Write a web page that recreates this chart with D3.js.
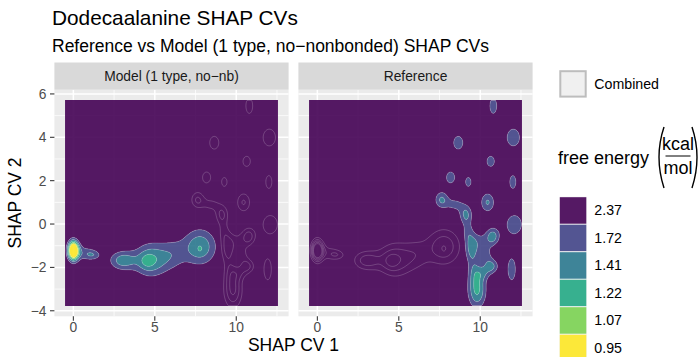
<!DOCTYPE html>
<html>
<head>
<meta charset="utf-8">
<script src="https://cdn.jsdelivr.net/npm/d3@7"></script>
<style>
  body { margin: 0; background: #ffffff; }
  text { font-family: "Liberation Sans", Arial, Helvetica, sans-serif; }
</style>
</head>
<body>
<svg id="chart" width="700" height="357"></svg>
<script>
// ---- data ---------------------------------------------------------------
const facets = ["Model (1 type, no\u2212nb)", "Reference"];
const energyLevels = [2.37, 1.72, 1.41, 1.22, 1.07, 0.95];   // kcal/mol, bin upper bounds
const levelColors = ["#440154", "#414487", "#2A788E", "#22A884", "#7AD151", "#FDE725"];
const xTicks = [0, 5, 10];
const yTicks = [-4, -2, 0, 2, 4, 6];
const xDomain = [-0.51, 12.56];   // SHAP CV 1 sampled range
const yDomain = [-3.78, 5.72];    // SHAP CV 2 sampled range
const kT = 0.596;                 // kcal/mol at 300 K

// basins of the population density: [cv1, cv2, spread cv1, spread cv2, weight]
const modelBasins = [
  [0.00, -1.22, 0.24, 0.32, 0.320],
  [0.62, -1.32, 0.42, 0.28, 0.060],
  [1.22, -1.42, 0.36, 0.18, 0.075],
  [3.00, -1.68, 0.60, 0.33, 0.110],
  [4.75, -1.65, 0.75, 0.58, 0.125],
  [4.50, -1.72, 0.30, 0.25, 0.030],
  [6.10, -1.40, 0.60, 0.55, 0.060],
  [7.77, -1.05, 0.75, 0.62, 0.125],
  [7.77, -1.17, 0.10, 0.10, 0.012]
];
const referenceBasins = [
  [10.80,  5.45, 0.27, 0.45, 0.075],
  [8.65,   3.75, 0.36, 0.38, 0.075],
  [12.03,  3.99, 0.46, 0.47, 0.078],
  [10.64,  2.89, 0.29, 0.30, 0.075],
  [8.18,   2.15, 0.32, 0.32, 0.075],
  [9.27,   1.94, 0.21, 0.26, 0.075],
  [12.00,  1.94, 0.24, 0.38, 0.075],
  [12.09, -0.02, 0.53, 0.50, 0.078],
  [11.93, -2.09, 0.29, 0.62, 0.075],
  [7.62,   1.12, 0.32, 0.30, 0.098],
  [8.45,   0.90, 0.40, 0.24, 0.065],
  [10.45,  1.00, 0.34, 0.36, 0.098],
  [9.12,   0.44, 0.30, 0.33, 0.100],
  [9.22,  -0.35, 0.25, 0.35, 0.055],
  [9.47,  -1.15, 0.30, 0.48, 0.105],
  [10.10, -0.80, 0.45, 0.35, 0.055],
  [10.78, -0.56, 0.30, 0.30, 0.102],
  [10.70, -1.95, 0.32, 0.25, 0.098],
  [10.35, -1.45, 0.30, 0.30, 0.055],
  [10.20, -2.25, 0.30, 0.25, 0.050],
  [9.65,  -2.20, 0.30, 0.40, 0.055],
  [9.80,  -3.05, 0.42, 0.62, 0.135]
];
const legendLineLabel = "Combined";

// ---- free-energy surfaces --------------------------------------------------
const NX = 260, NY = 190, PAD = 2;
const gdx = (xDomain[1] - xDomain[0]) / NX;
const gdy = (yDomain[1] - yDomain[0]) / NY;
const fCap = energyLevels[0];

function density(basins, x, y) {
  let d = 0;
  for (const [cx, cy, sx, sy, w] of basins) {
    const u = (x - cx) / sx, v = (y - cy) / sy;
    d += w * Math.exp(-0.5 * (u * u + v * v));
  }
  return d;
}
function freeEnergy(basins, x, y) {
  const d = density(basins, x, y);
  return d > 0 ? Math.min(-kT * Math.log(d), fCap) : fCap;
}
function contourSet(basins) {
  const gw = NX + 2 * PAD, gh = NY + 2 * PAD;
  const vals = new Float64Array(gw * gh);
  for (let j = 0; j < gh; j++) {
    for (let i = 0; i < gw; i++) {
      const k = i - PAD, l = j - PAD;
      if (k < 0 || l < 0 || k >= NX || l >= NY) { vals[j * gw + i] = -(fCap + 1); continue; }
      const x = xDomain[0] + (k + 0.5) * gdx, y = yDomain[0] + (l + 0.5) * gdy;
      vals[j * gw + i] = -freeEnergy(basins, x, y);
    }
  }
  const gen = d3.contours().size([gw, gh]).thresholds(energyLevels.slice(1).map(f => -f));
  return gen(vals).map(c => ({ level: -c.value, coordinates: c.coordinates }));
}
const surfaces = [contourSet(modelBasins), contourSet(referenceBasins)];

// ---- layout -----------------------------------------------------------------
const svg = d3.select("#chart");
const panelTop = 89.7, panelBottom = 316.3;
const panelX = [[54.4, 288.6], [298.4, 532.6]];
const stripTop = 62.5;
const expand = (d, f) => { const w = d[1] - d[0]; return [d[0] - f * w, d[1] + f * w]; };
const y = d3.scaleLinear().domain(expand(yDomain, 0.05)).range([panelBottom, panelTop]);

function ringPath(coords, xs) {
  let s = "";
  for (const poly of coords) for (const ring of poly) {
    ring.forEach((p, i) => {
      const X = xs(xDomain[0] + (p[0] - PAD) * gdx);
      const Y = y(yDomain[0] + (p[1] - PAD) * gdy);
      s += (i ? "L" : "M") + X.toFixed(2) + "," + Y.toFixed(2);
    });
    s += "Z";
  }
  return s;
}

const defs = svg.append("defs");

facets.forEach((name, p) => {
  const x = d3.scaleLinear().domain(expand(xDomain, 0.05)).range(panelX[p]);
  const g = svg.append("g");
  const [L, R] = panelX[p];

  // panel background and grid
  g.append("rect").attr("x", L).attr("y", panelTop).attr("width", R - L)
    .attr("height", panelBottom - panelTop).attr("fill", "#ebebeb");
  const xMinor = [2.5, 7.5, 12.5], yMinor = [-3, -1, 1, 3, 5];
  xMinor.forEach(v => g.append("line").attr("x1", x(v)).attr("x2", x(v)).attr("y1", panelTop).attr("y2", panelBottom)
    .attr("stroke", "#fff").attr("stroke-width", 0.75));
  yMinor.forEach(v => g.append("line").attr("x1", L).attr("x2", R).attr("y1", y(v)).attr("y2", y(v))
    .attr("stroke", "#fff").attr("stroke-width", 0.75));
  xTicks.forEach(v => g.append("line").attr("x1", x(v)).attr("x2", x(v)).attr("y1", panelTop).attr("y2", panelBottom)
    .attr("stroke", "#fff").attr("stroke-width", 1.5));
  yTicks.forEach(v => g.append("line").attr("x1", L).attr("x2", R).attr("y1", y(v)).attr("y2", y(v))
    .attr("stroke", "#fff").attr("stroke-width", 1.5));

  // clip to the sampled region
  const rx0 = x(xDomain[0]), rx1 = x(xDomain[1]), ry0 = y(yDomain[1]), ry1 = y(yDomain[0]);
  defs.append("clipPath").attr("id", "clip" + p).append("rect")
    .attr("x", rx0).attr("y", ry0).attr("width", rx1 - rx0).attr("height", ry1 - ry0);
  const body = g.append("g").attr("clip-path", `url(#clip${p})`);

  // filled free-energy bands (each band = level k minus level k+1)
  const own = surfaces[p];
  const rectPath = `M${rx0},${ry0}H${rx1}V${ry1}H${rx0}Z`;
  for (let k = 0; k < energyLevels.length; k++) {
    const outer = k === 0 ? rectPath : ringPath(own[k - 1].coordinates, x);
    const inner = k < energyLevels.length - 1 ? ringPath(own[k].coordinates, x) : "";
    body.append("path").attr("d", outer + inner).attr("fill-rule", "evenodd")
      .attr("fill", levelColors[k]).attr("fill-opacity", 0.9);
  }
  // contour lines of both surfaces
  surfaces.forEach(set => set.forEach(c => {
    body.append("path").attr("d", ringPath(c.coordinates, x))
      .attr("fill", "none").attr("stroke", "#ffffff").attr("stroke-opacity", 0.32)
      .attr("stroke-width", 0.6);
  }));

  // strip
  g.append("rect").attr("x", L).attr("y", stripTop).attr("width", R - L)
    .attr("height", panelTop - stripTop).attr("fill", "#d9d9d9");
  g.append("text").attr("x", (L + R) / 2).attr("y", 81.3).attr("text-anchor", "middle")
    .attr("font-size", 13.8).attr("fill", "#1a1a1a").text(name);

  // x axis
  xTicks.forEach(v => {
    g.append("line").attr("x1", x(v)).attr("x2", x(v)).attr("y1", panelBottom).attr("y2", panelBottom + 4.4)
      .attr("stroke", "#333333").attr("stroke-width", 1.07);
    g.append("text").attr("x", x(v)).attr("y", 332).attr("text-anchor", "middle")
      .attr("font-size", 13.8).attr("fill", "#4d4d4d").text(v);
  });

  if (p === 0) {
    yTicks.forEach(v => {
      g.append("line").attr("x1", L - 4.4).attr("x2", L).attr("y1", y(v)).attr("y2", y(v))
        .attr("stroke", "#333333").attr("stroke-width", 1.07);
      g.append("text").attr("x", L - 7.9).attr("y", y(v) + 4.9).attr("text-anchor", "end")
        .attr("font-size", 13.8).attr("fill", "#4d4d4d").text(d3.format("")(v).replace("-", "\u2212"));
    });
  }
});

// titles
svg.append("text").attr("x", 52).attr("y", 25).attr("font-size", 20.8).attr("fill", "#000")
  .text("Dodecaalanine SHAP CVs");
svg.append("text").attr("x", 52).attr("y", 51.5).attr("font-size", 17.5).attr("fill", "#000")
  .text("Reference vs Model (1 type, no\u2212nonbonded) SHAP CVs");
svg.append("text").attr("x", (panelX[0][0] + panelX[1][1]) / 2).attr("y", 351).attr("text-anchor", "middle")
  .attr("font-size", 17.5).attr("fill", "#000").text("SHAP CV 1");
svg.append("text").attr("transform", `translate(21,${(panelTop + panelBottom) / 2}) rotate(-90)`)
  .attr("text-anchor", "middle").attr("font-size", 17.5).attr("fill", "#000").text("SHAP CV 2");

// legend: contour lines
const lg = svg.append("g");
lg.append("rect").attr("x", 560.3).attr("y", 71.2).attr("width", 25.4).attr("height", 25.4)
  .attr("fill", "#f0f0f0").attr("stroke", "#bdbdbd").attr("stroke-width", 2);
lg.append("text").attr("x", 594.3).attr("y", 88.9).attr("font-size", 14.2).attr("fill", "#000").text(legendLineLabel);

// legend: free energy title with (kcal / mol)
lg.append("text").attr("x", 558).attr("y", 164).attr("font-size", 18).attr("fill", "#000").text("free energy");
lg.append("text").attr("x", 678).attr("y", 150).attr("text-anchor", "middle").attr("font-size", 18).text("kcal");
lg.append("line").attr("x1", 665.5).attr("x2", 690.5).attr("y1", 156).attr("y2", 156).attr("stroke", "#000").attr("stroke-width", 1);
lg.append("text").attr("x", 678).attr("y", 174).attr("text-anchor", "middle").attr("font-size", 18).text("mol");
lg.append("path").attr("d", "M664,127 Q654,157 664,188").attr("fill", "none").attr("stroke", "#000").attr("stroke-width", 1.4);
lg.append("path").attr("d", "M692,127 Q702,157 692,188").attr("fill", "none").attr("stroke", "#000").attr("stroke-width", 1.4);

// legend: colour keys
const keyTop = 196.7, keyH = 27.5;
energyLevels.forEach((lv, i) => {
  const ky = keyTop + i * keyH;
  lg.append("rect").attr("x", 559.3).attr("y", ky).attr("width", 27.5).attr("height", keyH).attr("fill", "#f2f2f2");
  lg.append("rect").attr("x", 559.8).attr("y", ky + 0.5).attr("width", 26.5).attr("height", keyH - 1)
    .attr("fill", levelColors[i]).attr("fill-opacity", 0.9);
  lg.append("text").attr("x", 594.3).attr("y", ky + keyH / 2 + 4.9).attr("font-size", 14.2).attr("fill", "#000")
    .text(lv.toFixed(2));
});
</script>
</body>
</html>
